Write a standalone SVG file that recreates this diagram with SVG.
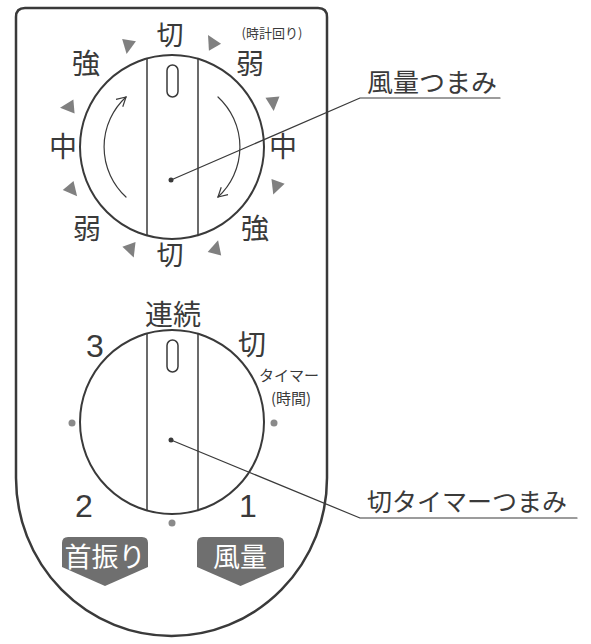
<svg xmlns="http://www.w3.org/2000/svg" width="591" height="644" viewBox="0 0 591 644">
<defs>
<style>
.ln{fill:none;stroke:#3a3a3a;stroke-linecap:round;stroke-linejoin:round}
.lbl{font-family:"Noto Sans CJK JP","Noto Sans",sans-serif;fill:#3a3a3a;text-anchor:middle}
.num{font-family:"Liberation Sans","Noto Sans",sans-serif;fill:#3a3a3a;text-anchor:middle}
.btn{fill:#6f6f6f}
.btxt{font-family:"Noto Sans CJK JP",sans-serif;fill:#ffffff;text-anchor:middle;font-size:27px}
.tri{fill:#808080}
.dot{fill:#8a8a8a}
</style>
<marker id="ah" viewBox="0 0 12 12" refX="10" refY="6" markerWidth="12" markerHeight="12" markerUnits="userSpaceOnUse" orient="auto">
<polyline points="1,1 10,6 1,11" fill="none" stroke="#3a3a3a" stroke-width="1.2"/>
</marker>
<polygon id="tr" points="-6,-7 8,0 -6,7"/>
</defs>
<rect width="591" height="644" fill="#ffffff"/>
<g id="body">
<path class="ln" stroke-width="2.5" d="M16,478 V17 Q16,8 25,8 H318 Q327,8 327,17 V478 A155.5,158 0 0 1 16,478 Z"/>
</g>
<g id="knob-fan">
<circle class="ln" stroke-width="2" cx="172" cy="147" r="92"/>
<line class="ln" stroke-width="1.5" x1="147" y1="58.5" x2="147" y2="235.5"/>
<line class="ln" stroke-width="1.5" x1="198" y1="58.5" x2="198" y2="235.5"/>
<rect class="ln" stroke-width="1.5" x="167" y="65" width="11" height="32" rx="5.5"/>
<path class="ln" stroke-width="1.2" d="M126,197 A68,68 0 0 1 126,97" marker-end="url(#ah)"/>
<path class="ln" stroke-width="1.2" d="M218,97 A68,68 0 0 1 218,197" marker-end="url(#ah)"/>
<circle cx="171" cy="180" r="2.5" fill="#3a3a3a"/>
</g>
<g id="fan-labels">
<text class="lbl" font-size="27" x="170" y="45">切</text>
<text class="lbl" font-size="13" x="272" y="38">(時計回り)</text>
<text class="lbl" font-size="28" x="250" y="74">弱</text>
<text class="lbl" font-size="28" x="86" y="74">強</text>
<text class="lbl" font-size="28" x="63" y="157">中</text>
<text class="lbl" font-size="28" x="283" y="157">中</text>
<text class="lbl" font-size="28" x="87" y="239">弱</text>
<text class="lbl" font-size="28" x="255" y="239">強</text>
<text class="lbl" font-size="27" x="170" y="265">切</text>
</g>
<g id="fan-triangles">
<use class="tri" href="#tr" transform="translate(128,46) rotate(100)"/>
<use class="tri" href="#tr" transform="translate(212,42) rotate(-120)"/>
<use class="tri" href="#tr" transform="translate(68,107) rotate(175)"/>
<use class="tri" href="#tr" transform="translate(72,190) rotate(50)"/>
<use class="tri" href="#tr" transform="translate(131,250) rotate(70)"/>
<use class="tri" href="#tr" transform="translate(216,248) rotate(-75)"/>
<use class="tri" href="#tr" transform="translate(273,103) rotate(85)"/>
<use class="tri" href="#tr" transform="translate(276,187) rotate(110)"/>
</g>
<g id="knob-timer">
<circle class="ln" stroke-width="2" cx="172" cy="422" r="92"/>
<line class="ln" stroke-width="1.5" x1="147" y1="333.5" x2="147" y2="510.5"/>
<line class="ln" stroke-width="1.5" x1="198" y1="333.5" x2="198" y2="510.5"/>
<rect class="ln" stroke-width="1.5" x="167" y="340" width="11" height="32" rx="5.5"/>
<circle cx="171" cy="440" r="2.5" fill="#3a3a3a"/>
</g>
<g id="timer-labels">
<text class="lbl" font-size="28" x="173" y="325">連続</text>
<text class="num" font-size="32" x="95" y="357">3</text>
<text class="lbl" font-size="28" x="252" y="355">切</text>
<text class="lbl" font-size="15" x="289" y="381">タイマー</text>
<text class="lbl" font-size="15" x="291" y="404">(時間)</text>
<text class="num" font-size="32" x="84" y="517">2</text>
<text class="num" font-size="32" x="248" y="517">1</text>
<circle class="dot" cx="72" cy="423" r="3.5"/>
<circle class="dot" cx="274" cy="423" r="3.5"/>
<circle class="dot" cx="172" cy="523" r="3.5"/>
</g>
<g id="btn-swing">
<path class="btn" d="M68,537 H142 Q148,537 148,543 V567 L105,586 L62,567 V543 Q62,537 68,537 Z"/>
<text class="btxt" x="105" y="567">首振り</text>
</g>
<g id="btn-fan">
<path class="btn" d="M203,537 H278 Q284,537 284,543 V567 L240.5,586 L197,567 V543 Q197,537 203,537 Z"/>
<text class="btxt" x="240" y="567">風量</text>
</g>
<g id="connectors">
<polyline class="ln" stroke-width="1.2" points="171,180 360,98 500,98"/>
<polyline class="ln" stroke-width="1.2" points="171,440 360,518 577,518"/>
</g>
<g id="callouts">
<text class="lbl" font-size="26" x="367" y="92" style="text-anchor:start">風量つまみ</text>
<text class="lbl" font-size="25" x="367" y="511" style="text-anchor:start">切タイマーつまみ</text>
</g>
</svg>
